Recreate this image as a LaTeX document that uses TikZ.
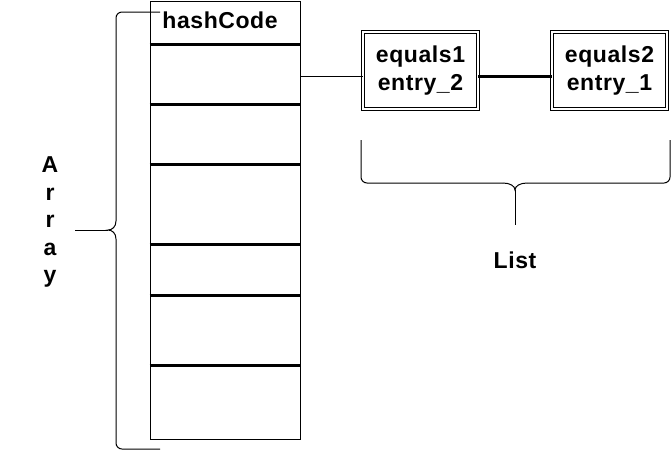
\documentclass[tikz,border=0pt]{standalone}
\usepackage{fontspec}
\setmainfont{Liberation Sans}
\newfontfamily\lblfont[LetterSpace=2.5]{Liberation Sans}
\usetikzlibrary{calc,positioning}

\begin{document}
\begin{tikzpicture}[
    x=1pt,y=-1pt,
    lbl/.style   = {font=\lblfont\fontsize{23}{27.5}\selectfont\bfseries,inner sep=0pt,align=center},
    arrbox/.style= {draw,line width=1pt,minimum width=150pt,minimum height=438pt,inner sep=0pt},
    sep/.style   = {line width=3pt},
    entry/.style = {draw,double,line width=0.8pt,double distance=2.4pt,minimum width=115pt,
                    minimum height=76.5pt,inner sep=0pt,align=center,
                    font=\lblfont\fontsize{23}{27.5}\selectfont\bfseries},
    brc/.style   = {line width=1pt,rounded corners=6pt},
    cusp/.style  = {line width=1pt},
    link/.style  = {line width=3pt},
  ]
  \useasboundingbox (0,0) rectangle (671,451);

  % the array of buckets
  \node[arrbox] (arr) at (225,220) {};
  \foreach \y in {44,104,164,244,295,365}
    \draw[sep] (arr.west |- 0,\y) -- (arr.east |- 0,\y);
  \node[lbl] (hc) at (220,20) {hashCode};

  % entries of one bucket
  \node[entry] (e1) at (420.5,70.5) {equals1\\entry\_2};
  \node[entry] (e2) at (609.5,70.5) {equals2\\entry\_1};

  \coordinate (slot) at (arr.east |- 0,76);
  \draw[line width=1pt] (slot) -- (slot -| e1.west);
  \draw[link] (slot -| e1.east) -- (slot -| e2.west);

  % brace round the array
  \coordinate (atip) at (108,230);
  \coordinate (astub) at (75,230);
  \draw[brc] (116,221) -- (116,12) -- (160,12);
  \draw[brc] (116,239) -- (116,449) -- (160,449);
  \draw[cusp] (116,221) .. controls (116,227) and (112,230) .. (atip)
       .. controls (112,230) and (116,233) .. (116,239);
  \draw[line width=1pt] (astub) -- (atip);
  \node[lbl] (arrlbl) at (50,222) {A\\r\\r\\a\\y};

  % brace under the list
  \coordinate (ltip) at (515,190);
  \coordinate (lstub) at (515,225);
  \draw[brc] (361,140) -- (361,183) -- (503,183);
  \draw[brc] (527,183) -- (670,183) -- (670,140);
  \draw[cusp] (503,183) .. controls (510,183) and (515,186) .. (ltip)
       .. controls (515,186) and (520,183) .. (527,183);
  \draw[line width=1pt] (ltip) -- (lstub);
  \node[lbl] (lst) at (515,260) {List};

\end{tikzpicture}
\end{document}
